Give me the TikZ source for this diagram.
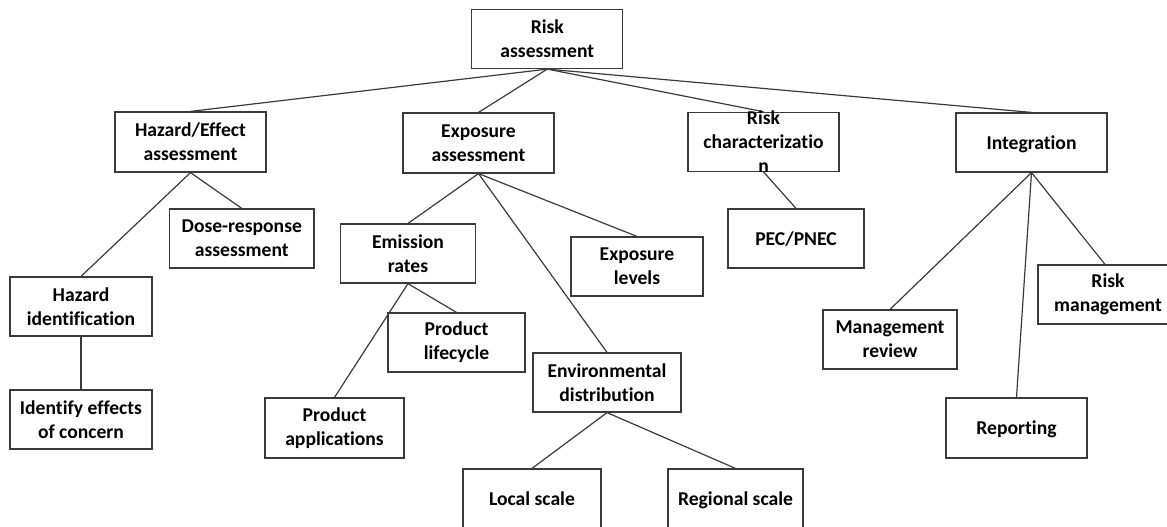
\documentclass[tikz,border=0pt]{standalone}
\usepackage{fontspec}
\setmainfont{Carlito}[Ligatures=NoCommon]
\definecolor{edge}{HTML}{3A3A3A}
\begin{document}
\begin{tikzpicture}[
  x=0.75pt, y=-0.75pt,
  every node/.style={font=\fontsize{14.7}{18}\selectfont\bfseries, text=black},
  box/.style 2 args={draw=edge, line width=0.9pt, fill=white, inner sep=0pt,
    align=center, minimum width=#1*0.75pt, minimum height=#2*0.75pt},
  single/.style={text depth=0pt},
  link/.style={draw=edge, line width=0.9pt}
]
\useasboundingbox (0,0) rectangle (1167,526);
\clip (0,0) rectangle (1167,526);

% root
\node[box={151}{59}] (ra) at (547.3,39) {Risk\\assessment};

% first level
\node[box={151}{60}] (he) at (190.5,142) {Hazard/Effect\\assessment};
\node[box={151}{60}] (ea) at (478.5,143) {Exposure\\assessment};
\node[box={151}{59}] (rc) at (763.5,141.8) {};
\node[box={151}{59}, single] (ig) at (1031.5,142.5) {Integration};

% second level
\node[box={144.5}{59}] (dr) at (241.8,238.5) {Dose-response\\assessment};
\node[box={135}{59}] (er) at (408,253.5) {Emission\\rates};
\node[box={132}{59}] (el) at (637,266.5) {Exposure\\levels};
\node[box={136}{59}, single] (pp) at (796,238.5) {PEC/PNEC};
\node[box={142}{59}] (hi) at (81,306.5) {Hazard\\identification};
\node[box={148}{59}] (ed) at (607,382.5) {Environmental\\distribution};
\node[box={134}{59}] (mr) at (890,339.5) {Management\\review};
\node[box={140}{59}] (rm) at (1108,294.5) {Risk\\management};
\node[box={141}{60}, single] (rp) at (1016.5,428) {Reporting};

% third level
\node[box={142}{59}] (ie) at (81,419.5) {Identify effects\\of concern};
\node[box={139}{60}] (pa) at (334.5,428) {Product\\applications};
\node[box={138}{60}, single] (ls) at (532,499) {Local scale};
\node[box={135}{60}, single] (rs) at (735.5,499) {Regional scale};

% connectors
\draw[link] (ra.south) -- (he.north);
\draw[link] (ra.south) -- (ea.north);
\draw[link] (ra.south) -- (rc.north);
\draw[link] (ra.south) -- (ig.north);
\draw[link] (he.south) -- (hi.north);
\draw[link] (he.south) -- (dr.north);
\draw[link] (hi.south) -- (ie.north);
\draw[link] (ea.south) -- (er.north);
\draw[link] (ea.south) -- (ed.north);
\draw[link] (ea.south) -- (el.north);
\draw[link] (er.south) -- (pa.north);
\draw[link] (ed.south) -- (ls.north);
\draw[link] (ed.south) -- (rs.north);
\draw[link] (rc.south) -- (pp.north);
\draw[link] (ig.south) -- (mr.north);
\draw[link] (ig.south) -- (rp.north);
\draw[link] (ig.south) -- ([xshift=-3*0.75pt]rm.north);

% product lifecycle sits over the emission-to-applications line
\node[box={137}{59}, fill=none] (pl) at (456.5,342.5) {Product\\lifecycle};
\draw[link] (er.south) -- (pl.north);

% the label of this box runs past its lower edge
\node[align=center, inner sep=0pt] (rct) at (rc.center) {Risk\\characterizatio\\n};
\end{tikzpicture}
\end{document}
